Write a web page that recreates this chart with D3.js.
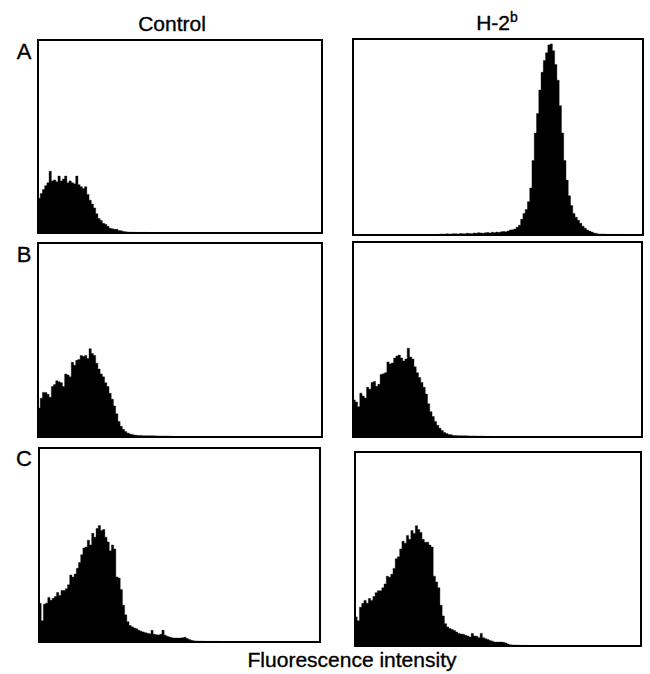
<!DOCTYPE html>
<html>
<head>
<meta charset="utf-8">
<script src="https://cdn.jsdelivr.net/npm/d3@7/dist/d3.min.js"></script>
<style>
  html, body { margin: 0; padding: 0; background: #fff; }
  svg { display: block; }
  text { font-family: "Liberation Sans", Arial, Helvetica, sans-serif; fill: #000; stroke: #000; stroke-width: 0.35px; }
</style>
</head>
<body>
<svg id="chart" width="650" height="674"></svg>
<script>
// ---------- DATA (histogram counts, % of full scale, per channel bin) ----------
const columns = ["Control", "H-2b"];
const rows = ["A", "B", "C"];
const xLabel = "Fluorescence intensity";
const channelCount = 128;

const controlA = [18,20.5,22.5,24.5,26,32,27,27.5,26.5,29.5,27,28,29.5,26,27,26,25.5,29.5,25,24,23,24,20,17,15,13,10,7.5,6.5,5,4.5,3.5,2.5,2.2,1.9,1.9,1.3,1.2,0.8,0.6,0.5,0.4,0.4,0.4,0.3,0.3,0.3,0.3,0.3,0.3];

const h2bA = [0,0,0,0,0,0,0,0,0,0,0,0,0,0,0,0,0,0,0,0,0,0,0,0,0,0,0,0,0,0,0,0,0,0,0,0,0,0,
  0.4,0.5,0.4,0.6,0.5,0.5,0.7,0.6,0.5,0.8,0.7,0.6,0.9,0.8,0.7,1,0.9,1.2,1,0.9,1.1,1.3,1,1.4,1.2,1.5,1.3,1.6,1.8,1.6,2,
  2.5,2.7,3,4,5,8,11,13,17,24,38,52,62,74,83,89,93,97,97.5,94,87,79,66,52,38,28,20,15,11,9,7.5,6,4.5,3.5,2.5,2,1.5,1,0.8,0.5,0.5,0.5,0.4,0.3,0.3,0.3,0.3,0.3,0.3,0.3];

const controlB = [15,20,23,23,22,20.5,26,27,29,28.5,28,26,32.5,32,31,38.5,37,39.5,40,42,41.5,42,40.5,45.5,43,42,38,35,32.5,31,28,26,22.5,19.5,16,12,8,5.5,4,2.8,2,1.6,1.3,1,0.9,0.8,0.8,0.7,0.7,0.7,0.6,0.6,0.6,0.5,0.5,0.5,0.5,0.5,0.4,0.4,0.3,0.3];

const h2bB = [19,18,15.5,22.5,21,20,25.5,24.5,28,28.5,26,27,32,32.5,33,38.5,37.5,38,40.5,41.5,42,40.5,39,40,45.5,41,40,36,33,30.5,28,25.5,22,17,13,10.5,8,6,4.5,3.3,2.3,1.8,1.3,1.2,0.8,0.8,0.7,0.7,0.6,0.6,0.6,0.5,0.5,0.5,0.5,0.4,0.4,0.4,0.3,0.3,0.3];

const controlC = [20,11,19.5,20,23,21.5,22.5,23.5,25.5,24,26.5,26.5,27.5,29.5,34.5,33.5,35,38,41,45,48.5,49,52.5,50,56,54,58.5,60,57.5,58,54,51.5,47,50,48,33.5,33,27,19,14,10.5,8.5,7.8,7.2,6.8,6,5.6,5.2,4.8,4.5,4.3,6,4,3.8,3.6,4,6,3.5,3,2.6,2.2,2,2,2,2,2.2,2.4,1.8,1.3,0.9,0.6,0.5,0.5,0.4,0.4,0.4,0.3,0.3,0.3,0.3,0.3,0.3];

const h2bC = [15,13,20,22,23.5,22,24.5,23.5,25.5,27.5,28.5,28.5,30,32,36,35.5,37,40,45,46,50,54,53,57,55,59.5,58,62,60,58.5,55,53.5,53.5,52,51,36,33,30,21,15.5,11.5,9.8,9,8.5,8,7.2,6.5,6.2,6,5.6,5.2,4.6,6.5,5.2,5,4.3,6.5,4.3,3.8,3.3,2.8,2.5,2,2,2,2,1.9,1.6,1,0.7,0.5,0.5,0.4,0.4,0.3,0.3,0.3,0.3];

// ---------- LAYOUT ----------
const svg = d3.select("#chart");
const panels = [
  { data: controlA, box: [38, 40, 322, 233] },
  { data: h2bA,     box: [353, 39, 643, 235] },
  { data: controlB, box: [38, 243, 322, 437] },
  { data: h2bB,     box: [353, 242, 642, 437] },
  { data: controlC, box: [39, 448, 320, 642] },
  { data: h2bC,     box: [355, 452, 641, 646] }
];

panels.forEach(p => {
  const [x0, y0, x1, y1] = p.box;
  const x = d3.scaleLinear().domain([0, channelCount]).range([x0, x1]);
  const y = d3.scaleLinear().domain([0, 100]).range([y1, y0]);
  const g = svg.append("g");
  const pts = p.data.map((v, i) => [i, v]);
  pts.push([p.data.length, p.data[p.data.length - 1]]);
  const area = d3.area()
    .x(d => x(d[0]))
    .y0(y(0))
    .y1(d => y(d[1]))
    .curve(d3.curveStepAfter);
  g.append("path")
    .attr("d", area(pts))
    .attr("fill", "#000")
    .attr("stroke", "#000")
    .attr("stroke-width", 0.4);
  g.append("rect")
    .attr("x", x0).attr("y", y0)
    .attr("width", x1 - x0).attr("height", y1 - y0)
    .attr("fill", "none")
    .attr("stroke", "#000")
    .attr("stroke-width", 2);
});

// column titles
svg.append("text").attr("x", 172).attr("y", 31)
  .attr("text-anchor", "middle").attr("font-size", 21).text(columns[0]);
const t2 = svg.append("text").attr("x", 497).attr("y", 30)
  .attr("text-anchor", "middle").attr("font-size", 21);
t2.append("tspan").text("H-2");
t2.append("tspan").attr("dy", -8).attr("font-size", 14).text("b");

// row labels
const rowY = [59, 262, 466];
rows.forEach((r, i) => {
  svg.append("text").attr("x", 24).attr("y", rowY[i])
    .attr("text-anchor", "middle").attr("font-size", 22).text(r);
});

// x label
svg.append("text").attr("x", 352).attr("y", 667)
  .attr("text-anchor", "middle").attr("font-size", 21).text(xLabel);
</script>
</body>
</html>
